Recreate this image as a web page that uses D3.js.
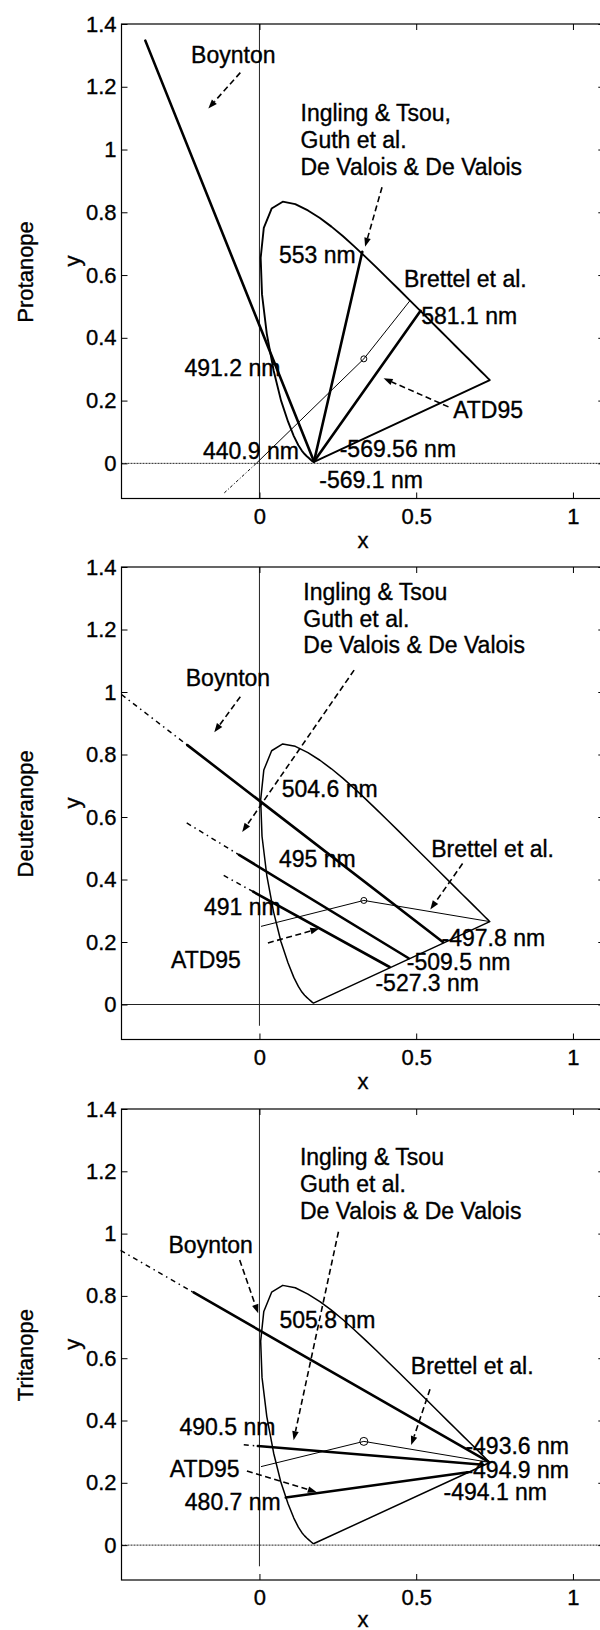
<!DOCTYPE html>
<html>
<head>
<meta charset="utf-8">
<script src="https://cdn.jsdelivr.net/npm/d3@7"></script>
<style>
  body { margin: 0; background: #fff; }
  svg { display: block; font-family: "Liberation Sans", Arial, Helvetica, sans-serif; }
  text { stroke: #000; stroke-width: 0.35px; }
</style>
</head>
<body>
<svg id="chart" width="600" height="1630"></svg>
<script>
// ---- data (CIE 1931 x,y chromaticity) ----
var xTicks = [0, 0.5, 1];
var yTicks = [0, 0.2, 0.4, 0.6, 0.8, 1, 1.2, 1.4];
var panelNames = ["Protanope", "Deuteranope", "Tritanope"];
var whitePoint = [0.333, 0.333];

// spectral locus 380..700 nm
var locus = [
  [0.1741, 0.0050], [0.1733, 0.0048], [0.1714, 0.0051], [0.1689, 0.0069], [0.1644, 0.0109],
  [0.1566, 0.0177], [0.1510, 0.0227], [0.1440, 0.0297], [0.1355, 0.0399], [0.1241, 0.0578],
  [0.1096, 0.0868], [0.0913, 0.1327], [0.0687, 0.2007], [0.0454, 0.2950], [0.0235, 0.4127],
  [0.0082, 0.5384], [0.0039, 0.6548], [0.0139, 0.7502], [0.0389, 0.8120], [0.0743, 0.8338],
  [0.1142, 0.8262], [0.1547, 0.8059], [0.1929, 0.7816], [0.2296, 0.7543], [0.2658, 0.7243],
  [0.3016, 0.6923], [0.3373, 0.6589], [0.3731, 0.6245], [0.4087, 0.5896], [0.4441, 0.5547],
  [0.4788, 0.5202], [0.5125, 0.4866], [0.5448, 0.4544], [0.5752, 0.4242], [0.6029, 0.3965],
  [0.6270, 0.3725], [0.6482, 0.3514], [0.6658, 0.3340], [0.6915, 0.3083], [0.7079, 0.2920],
  [0.7190, 0.2809], [0.7260, 0.2740], [0.7300, 0.2700], [0.7334, 0.2666], [0.7347, 0.2653]
];

// protanope
var protanModels = [
  [[-0.364, 1.347], [0.174, 0.006]],
  [[0.174, 0.006], [0.328, 0.674]],
  [[0.174, 0.006], [0.514, 0.486]]
];
var protanExtensions = [];
var protanBrettel = [[-0.01, 0.0], [0.333, 0.333], [0.479, 0.517]];
var protanBrettelExt = [[-0.112, -0.094], [-0.01, 0.0]];
var protanLabels = [
  ["Boynton", -0.218, 1.276],
  ["Ingling & Tsou,", 0.131, 1.091],
  ["Guth et al.", 0.131, 1.006],
  ["De Valois & De Valois", 0.131, 0.920],
  ["553 nm", 0.062, 0.640],
  ["Brettel et al.", 0.461, 0.562],
  ["581.1 nm", 0.516, 0.443],
  ["491.2 nm", -0.239, 0.278],
  ["ATD95", 0.618, 0.143],
  ["440.9 nm", -0.18, 0.013],
  ["-569.56 nm", 0.256, 0.02],
  ["-569.1 nm", 0.191, -0.080]
];
var protanArrows = [
  [[-0.061, 1.245], [-0.163, 1.131]],
  [[0.391, 0.880], [0.337, 0.690]],
  [[0.603, 0.180], [0.396, 0.271]]
];

// deuteranope
var deutanModels = [
  [[-0.23, 0.830], [0.585, 0.200]],
  [[-0.065, 0.479], [0.476, 0.148]],
  [[-0.02, 0.361], [0.415, 0.120]]
];
var deutanExtensions = [
  [[-0.44, 0.992], [-0.23, 0.830]],
  [[-0.232, 0.581], [-0.065, 0.479]],
  [[-0.114, 0.413], [-0.02, 0.361]]
];
var deutanBrettel = [[0.005, 0.25], [0.333, 0.333], [0.7347, 0.2653]];
var deutanLabels = [
  ["Ingling & Tsou", 0.140, 1.293],
  ["Guth et al.", 0.140, 1.209],
  ["De Valois & De Valois", 0.140, 1.125],
  ["Boynton", -0.235, 1.019],
  ["504.6 nm", 0.071, 0.664],
  ["495 nm", 0.062, 0.440],
  ["491 nm", -0.177, 0.285],
  ["Brettel et al.", 0.548, 0.472],
  ["ATD95", -0.282, 0.117],
  ["-497.8 nm", 0.581, 0.187],
  ["-509.5 nm", 0.470, 0.110],
  ["-527.3 nm", 0.370, 0.044]
];
var deutanArrows = [
  [[-0.061, 0.985], [-0.144, 0.871]],
  [[0.302, 1.070], [-0.055, 0.552]],
  [[0.648, 0.451], [0.545, 0.304]],
  [[0.027, 0.197], [0.191, 0.243]]
];

// tritanope
var tritanModels = [
  [[-0.21, 0.811], [0.730, 0.268]],
  [[-0.005, 0.318], [0.714, 0.258]],
  [[0.084, 0.153], [0.665, 0.234]]
];
var tritanExtensions = [
  [[-0.443, 0.946], [-0.21, 0.811]],
  [[-0.05, 0.322], [-0.005, 0.318]]
];
var tritanBrettel = [[0.005, 0.252], [0.333, 0.333], [0.7347, 0.2653]];
var tritanLabels = [
  ["Ingling & Tsou", 0.129, 1.219],
  ["Guth et al.", 0.129, 1.133],
  ["De Valois & De Valois", 0.129, 1.047],
  ["Boynton", -0.290, 0.937],
  ["505.8 nm", 0.064, 0.696],
  ["Brettel et al.", 0.483, 0.549],
  ["490.5 nm", -0.255, 0.353],
  ["ATD95", -0.286, 0.219],
  ["480.7 nm", -0.238, 0.114],
  ["-493.6 nm", 0.657, 0.294],
  ["-494.9 nm", 0.657, 0.216],
  ["-494.1 nm", 0.587, 0.146]
];
var tritanArrows = [
  [[-0.063, 0.915], [-0.004, 0.744]],
  [[0.252, 1.006], [0.109, 0.337]],
  [[0.544, 0.500], [0.484, 0.321]],
  [[-0.040, 0.238], [0.183, 0.170]]
];

var panels = [
  {models: protanModels, ext: protanExtensions, brettel: protanBrettel, brettelExt: protanBrettelExt, labels: protanLabels, arrows: protanArrows},
  {models: deutanModels, ext: deutanExtensions, brettel: deutanBrettel, brettelExt: null, labels: deutanLabels, arrows: deutanArrows},
  {models: tritanModels, ext: tritanExtensions, brettel: tritanBrettel, brettelExt: null, labels: tritanLabels, arrows: tritanArrows}
];

// ---- layout ----
var frames = [[24, 498.5], [567, 1039.5], [1109, 1580]];
var left = 121.5, right = 604.3;

var svg = d3.select("#chart");

panels.forEach(function (p, i) {
  var top = frames[i][0], bottom = frames[i][1];
  var x = d3.scaleLinear().domain([-0.44, 1.1]).range([left, right]);
  var y = d3.scaleLinear().domain([-0.112, 1.4]).range([bottom, top]);
  var line = d3.line().x(function (d) { return x(d[0]); }).y(function (d) { return y(d[1]); });

  var g = svg.append("g");

  // zero lines
  g.append("line")
    .attr("x1", x(0)).attr("x2", x(0))
    .attr("y1", y(1.4)).attr("y2", i == 0 ? y(-0.112) : y(-0.068))
    .attr("stroke", "#222").attr("stroke-width", 1);
  g.append("line")
    .attr("x1", left).attr("x2", right)
    .attr("y1", y(0)).attr("y2", y(0))
    .attr("stroke", "#222").attr("stroke-width", 1)
    .attr("stroke-dasharray", i == 1 ? null : "2,1");

  // spectral locus, closed by the purple line
  g.append("path")
    .attr("d", line(locus.concat([locus[0]])))
    .attr("fill", "none").attr("stroke", "#000")
    .attr("stroke-width", i == 0 ? 1.9 : 1.5)
    .attr("stroke-linejoin", "round");

  // Brettel et al.
  g.append("path")
    .attr("d", line(p.brettel))
    .attr("fill", "none").attr("stroke", "#000").attr("stroke-width", 1);
  if (p.brettelExt) {
    g.append("path")
      .attr("d", line(p.brettelExt))
      .attr("fill", "none").attr("stroke", "#000").attr("stroke-width", 1)
      .attr("stroke-dasharray", "3,2,1,2");
  }
  g.append("circle")
    .attr("cx", x(whitePoint[0])).attr("cy", y(whitePoint[1]))
    .attr("r", i == 2 ? 4 : 3)
    .attr("fill", "none").attr("stroke", "#000").attr("stroke-width", 1);

  // dash-dot extensions of the model lines
  g.selectAll(".ext").data(p.ext).enter().append("path")
    .attr("d", line)
    .attr("fill", "none").attr("stroke", "#000").attr("stroke-width", 1.5)
    .attr("stroke-dasharray", "5,4,1.5,4");

  // model lines
  g.selectAll(".model").data(p.models).enter().append("path")
    .attr("d", line)
    .attr("fill", "none").attr("stroke", "#000").attr("stroke-width", 2.6)
    .attr("stroke-linecap", "round");

  // dashed arrows
  p.arrows.forEach(function (a) {
    var x1 = x(a[0][0]), y1 = y(a[0][1]), x2 = x(a[1][0]), y2 = y(a[1][1]);
    var ang = Math.atan2(y2 - y1, x2 - x1), L = 9, W = 3.3;
    var bx = x2 - L * Math.cos(ang), by = y2 - L * Math.sin(ang);
    g.append("line")
      .attr("x1", x1).attr("y1", y1).attr("x2", bx).attr("y2", by)
      .attr("stroke", "#000").attr("stroke-width", 1.6)
      .attr("stroke-dasharray", "6,3.5");
    g.append("path")
      .attr("d", "M" + x2 + "," + y2 +
        "L" + (bx + W * Math.sin(ang)) + "," + (by - W * Math.cos(ang)) +
        "L" + (bx - W * Math.sin(ang)) + "," + (by + W * Math.cos(ang)) + "Z")
      .attr("fill", "#000");
  });

  // annotation texts
  g.selectAll(".lbl").data(p.labels).enter().append("text")
    .attr("x", function (d) { return x(d[1]); })
    .attr("y", function (d) { return y(d[2]); })
    .attr("font-size", 23)
    .attr("fill", "#000")
    .text(function (d) { return d[0]; });

  // box
  g.append("rect")
    .attr("x", left).attr("y", top)
    .attr("width", right - left).attr("height", bottom - top)
    .attr("fill", "none").attr("stroke", "#000").attr("stroke-width", 1.2);

  // axes, ticks pointing inward
  var fmt = function (d) { return String(+d.toFixed(1)); };
  var ax = g.append("g").attr("transform", "translate(" + left + ",0)")
    .call(d3.axisLeft(y).tickValues(yTicks).tickSize(-6).tickPadding(5).tickFormat(fmt));
  g.append("g").attr("transform", "translate(" + right + ",0)")
    .call(d3.axisRight(y).tickValues(yTicks).tickSize(-6).tickFormat(""));
  var bx = g.append("g").attr("transform", "translate(0," + bottom + ")")
    .call(d3.axisBottom(x).tickValues(xTicks).tickSize(-6).tickPadding(9.5).tickFormat(fmt));
  g.append("g").attr("transform", "translate(0," + top + ")")
    .call(d3.axisTop(x).tickValues(xTicks).tickSize(-6).tickFormat(""));
  g.selectAll(".domain").remove();
  g.selectAll(".tick line").attr("stroke", "#000");
  [ax, bx].forEach(function (a) {
    a.attr("font-family", null).attr("font-size", 22);
    a.selectAll("text").attr("fill", "#000");
  });

  // axis labels
  g.append("text")
    .attr("x", (left + right) / 2).attr("y", Math.min(bottom + 49, 1627))
    .attr("text-anchor", "middle").attr("font-size", 22)
    .text("x");
  g.append("text")
    .attr("transform", "translate(" + 80 + "," + y(0.645) + ") rotate(-90)")
    .attr("text-anchor", "middle").attr("font-size", 22)
    .text("y");
  g.append("text")
    .attr("transform", "translate(" + 33 + "," + y(0.61) + ") rotate(-90)")
    .attr("text-anchor", "middle").attr("font-size", 22)
    .text(panelNames[i]);
});
</script>
</body>
</html>
